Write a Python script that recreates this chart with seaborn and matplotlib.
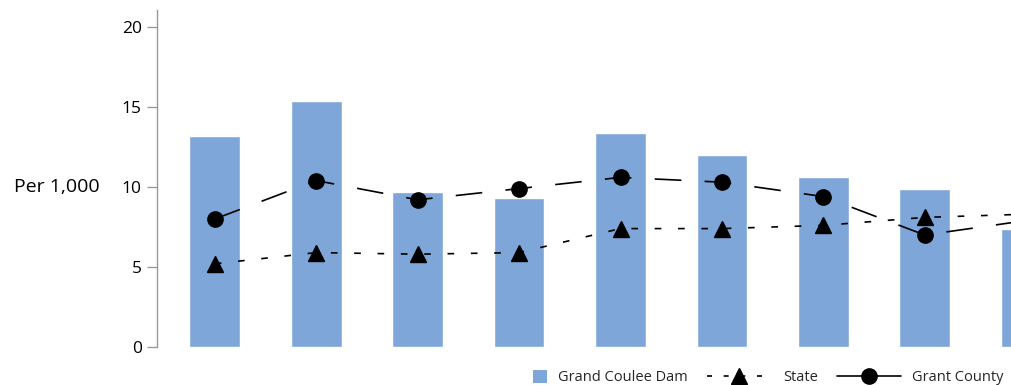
import numpy as np
import pandas as pd
import matplotlib
matplotlib.use("Agg")
import matplotlib.pyplot as plt
from matplotlib.lines import Line2D
from matplotlib.patches import Patch, Rectangle
from matplotlib.legend_handler import HandlerPatch
import seaborn as sns

sns.set_style("white")
plt.rcParams['font.family'] = ['Open Sans', 'DejaVu Sans']

# data (per 1,000); the 9th group is cut at the right edge
periods = ['P1', 'P2', 'P3', 'P4', 'P5', 'P6', 'P7', 'P8', 'P9']
grand_coulee = [13.2, 15.4, 9.7, 9.3, 13.4, 12.0, 10.6, 9.9, 7.4]
state = [5.2, 5.9, 5.8, 5.9, 7.4, 7.4, 7.6, 8.1, 8.3]
grant_county = [8.0, 10.4, 9.2, 9.9, 10.6, 10.3, 9.4, 7.0, 7.9]

df = pd.DataFrame({'period': periods, 'pos': range(len(periods)),
                   'gcd': grand_coulee, 'state': state, 'county': grant_county})

bar_color = '#7ea6d8'


def square_left(legend, orig_handle, xdescent, ydescent, width, height, fontsize):
    # small square at the right end of the handle box, next to the text
    s = height * 1.3
    return Rectangle((width - s - xdescent, -ydescent + (height - s) / 2), s, s)


fig = plt.figure(figsize=(10.11, 3.85), dpi=100)
# axes run past the right edge of the figure, as in the original screenshot
ax = fig.add_axes([157/1011, 38/385, 927/1011, 337/385])

sns.barplot(data=df, x='period', y='gcd', color=bar_color, width=0.5,
            saturation=1, ax=ax)
ax.plot(df['pos'], df['state'], color='black', lw=1.2, dashes=(4, 10),
        marker='^', markersize=11, zorder=5)
ax.plot(df['pos'], df['county'], color='black', lw=1.2, dashes=(16, 14),
        marker='o', markersize=11, zorder=6)

ax.set_xlim(-0.57, 8.57)
ax.set_ylim(0, 21.06)
ax.set_yticks([0, 5, 10, 15, 20])
ax.set_xticks([])
ax.set_xlabel('')
ax.set_ylabel('Per 1,000', rotation=0, fontsize=14, color='black',
              ha='center', va='center')
ax.yaxis.set_label_coords(-0.108, 0.475)
ax.tick_params(axis='y', left=True, length=7, width=1, color='#999999',
               labelsize=12.5, labelcolor='black', pad=4)
for s in ['top', 'right', 'bottom']:
    ax.spines[s].set_visible(False)
ax.spines['left'].set_color('#999999')
ax.spines['left'].set_linewidth(1)

handles = [
    Patch(facecolor=bar_color, edgecolor='none', label='Grand Coulee Dam'),
    Line2D([], [], color='black', lw=1.2, dashes=(3, 7), marker='^',
           markersize=11, label='State'),
    Line2D([], [], color='black', lw=1.2, marker='o', markersize=11,
           label='Grant County'),
]
fig.legend(handles=handles, loc='lower right', bbox_to_anchor=(1.006, -0.035),
           ncol=3, frameon=False, fontsize=10.5, handlelength=4.4,
           columnspacing=1.3, handletextpad=0.8,
           handler_map={Patch: HandlerPatch(patch_func=square_left)})

fig.savefig('out.png', dpi=100)
